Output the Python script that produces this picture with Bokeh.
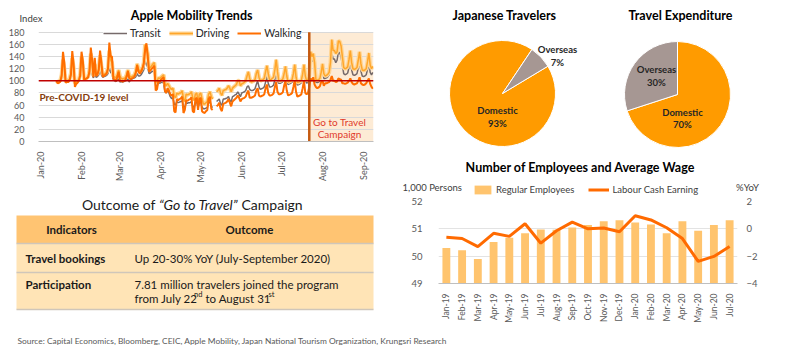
import pandas as pd
from math import pi, radians
from bokeh.plotting import figure
from bokeh.layouts import row, column
from bokeh.models import (Range1d, FactorRange, LinearAxis, Legend, LegendItem, Label,
                          BoxAnnotation, Span, FixedTicker, DatetimeTickFormatter)
from bokeh.core.properties import value
from bokeh.embed import file_html
from bokeh.resources import INLINE

FONT = "Lato"
nan = float("nan")

# ---------------- Apple mobility (daily, from 13 Jan 2020) ----------------
mobility_start = "2020-01-13"
transit = [
    100, 99, 99, 100, 104, 112, 106,
    100, 100, 101, 102, 106, 113, 107,
    97, 99, 100, 101, 105, 114, 108,
    103, 104, 105, 106, 110, 118, 110,
    105, 114, 106, 107, 110, 117, 110,
    106, 107, 108, 109, 112, 122, 114,
    112, 102, 100, 99, 101, 103, 98,
    99, 98, 99, 100, 101, 103, 98,
    102, 103, 104, 105, 107, 112, 108,
    108, 110, 114, 118, 133, 128, 122,
    112, 113, 115, 116, 115, 92, 90,
    98, 96, 97, 98, 96, 82, 80,
    85, 80, 74, 71, 72, 62, 60,
    66, 64, 65, 66, 67, 58, 56,
    64, 63, 64, 64, 66, 58, 56,
    64, 65, 56, 64, 65, 57, 54,
    54, 55, 56, 64, 66, 58, 56,
    nan, nan, 66, 68, 70, 62, 60,
    70, 70, 71, 72, 74, 68, 65,
    74, 75, 77, 78, 82, 78, 74,
    80, 81, 82, 84, 90, 92, 86,
    84, 84, 85, 87, 94, 100, 90,
    86, 87, 88, 90, 98, 108, 96,
    90, 90, 91, 93, 102, 118, 100,
    96, 96, 97, 99, 106, 118, 102,
    94, 95, 96, 98, 106, 120, 100,
    93, 94, 95, 97, 105, 120, 102,
    96, 98, 106, 140, 132, 136, 122,
    98, 97, 98, 100, 108, 120, 104,
    104, 105, 107, 110, 122, 146, 136,
    136, 130, 134, 148, 146, 140, 126,
    112, 110, 111, 113, 122, 134, 118,
    110, 109, 110, 112, 121, 132, 116,
    108, 107, 108, 110, 119, 130, 114,
    110, 114,
]
driving = [
    100, 98, 99, 101, 110, 135, 120,
    99, 100, 101, 103, 113, 138, 122,
    96, 98, 100, 102, 112, 140, 125,
    102, 104, 105, 107, 118, 145, 128,
    108, 128, 110, 112, 120, 142, 125,
    110, 111, 112, 114, 122, 150, 135,
    130, 108, 106, 105, 110, 118, 108,
    104, 103, 104, 105, 110, 118, 110,
    106, 107, 108, 110, 116, 128, 120,
    115, 118, 122, 130, 160, 155, 145,
    120, 122, 125, 128, 130, 100, 98,
    105, 104, 106, 108, 110, 95, 92,
    96, 92, 88, 86, 88, 75, 72,
    80, 78, 80, 80, 84, 70, 66,
    78, 77, 78, 79, 82, 72, 68,
    78, 80, 66, 78, 80, 70, 62,
    62, 64, 66, 78, 82, 74, 70,
    nan, nan, 82, 84, 88, 80, 76,
    84, 85, 86, 88, 92, 88, 82,
    88, 90, 92, 94, 100, 100, 92,
    95, 96, 98, 100, 108, 115, 104,
    98, 99, 100, 102, 112, 118, 106,
    100, 101, 102, 104, 115, 125, 112,
    102, 102, 104, 106, 118, 135, 115,
    100, 100, 101, 103, 112, 124, 108,
    98, 99, 100, 102, 112, 127, 106,
    97, 98, 99, 101, 111, 127, 108,
    100, 102, 110, 148, 140, 145, 130,
    102, 101, 102, 104, 114, 128, 112,
    108, 109, 111, 114, 130, 168, 150,
    150, 145, 148, 166, 165, 158, 140,
    122, 120, 121, 123, 135, 150, 130,
    120, 119, 120, 122, 134, 148, 128,
    118, 117, 118, 120, 132, 146, 126,
    120, 124,
]
walking = [
    100, 96, 97, 99, 108, 148, 130,
    97, 98, 98, 101, 110, 149, 128,
    90, 95, 97, 100, 109, 148, 133,
    101, 103, 104, 106, 115, 155, 135,
    106, 138, 108, 110, 118, 150, 130,
    107, 108, 110, 112, 120, 163, 140,
    140, 104, 102, 100, 106, 115, 100,
    100, 99, 100, 101, 106, 116, 104,
    103, 104, 105, 107, 113, 126, 115,
    112, 115, 120, 128, 150, 162, 140,
    115, 117, 120, 122, 125, 84, 86,
    100, 98, 102, 104, 106, 83, 80,
    88, 84, 78, 75, 78, 50, 48,
    70, 68, 70, 71, 74, 47, 52,
    68, 67, 69, 70, 73, 50, 48,
    70, 72, 52, 70, 72, 50, 48,
    47, 50, 52, 70, 74, 54, 52,
    nan, nan, 58, 60, 64, 54, 50,
    62, 63, 64, 66, 70, 64, 58,
    66, 68, 70, 72, 76, 72, 66,
    70, 71, 72, 74, 80, 84, 72,
    72, 73, 74, 76, 84, 88, 76,
    74, 75, 76, 78, 88, 94, 80,
    76, 76, 77, 79, 90, 98, 82,
    78, 78, 79, 81, 92, 100, 84,
    76, 77, 78, 80, 90, 101, 82,
    74, 75, 76, 78, 88, 100, 80,
    78, 80, 90, 104, 100, 106, 94,
    90, 88, 89, 91, 98, 100, 92,
    96, 96, 97, 98, 102, 108, 100,
    100, 98, 99, 104, 103, 102, 96,
    96, 95, 96, 97, 100, 104, 98,
    95, 94, 95, 96, 100, 106, 96,
    94, 93, 94, 96, 100, 104, 95,
    90, 87,
]
mob_month_ticks = ["2020-01-01", "2020-02-01", "2020-03-01", "2020-04-01", "2020-05-01",
                   "2020-06-01", "2020-07-01", "2020-08-01", "2020-09-01"]
mob_y_ticks = [0, 20, 40, 60, 80, 100, 120, 140, 160, 180]
pre_covid_level = 100
campaign_start = "2020-07-22"

# ---------------- Pies ----------------
pie_labels = ["Domestic", "Overseas"]
travelers_share = [93, 7]
expenditure_share = [70, 30]

# ---------------- Employees & wage ----------------
months = ["Jan-19", "Feb-19", "Mar-19", "Apr-19", "May-19", "Jun-19", "Jul-19", "Aug-19",
          "Sep-19", "Oct-19", "Nov-19", "Dec-19", "Jan-20", "Feb-20", "Mar-20", "Apr-20",
          "May-20", "Jun-20", "Jul-20"]
regular_employees = [50.30, 50.22, 49.90, 50.52, 50.67, 50.84, 50.98, 50.97, 51.05, 51.14,
                     51.28, 51.31, 51.23, 51.16, 50.84, 51.28, 50.93, 51.14, 51.31]
labour_cash_earning = [-0.62, -0.71, -1.30, -0.33, -0.55, 0.37, -1.05, -0.14, 0.49, 0.00,
                       0.06, -0.21, 0.96, 0.65, 0.08, -0.71, -2.38, -2.02, -1.30]
emp_ticks = [49, 50, 51, 52]
yoy_ticks = [-4, -2, 0, 2]

# ---------------- Table ----------------
table_title = ["Outcome of", "\u201cGo to Travel\u201d", "Campaign"]
table_header = ["Indicators", "Outcome"]
indicators = ["Travel bookings", "Participation"]
outcome_1 = "Up 20-30% YoY (July-September 2020)"
outcome_2 = ["7.81 million travelers joined the program", "from July 22", "nd", "to August 31", "st"]

source_text = ("Source: Capital Economics, Bloomberg, CEIC, Apple Mobility, Japan National "
               "Tourism Organization, Krungsri Research")


def ms(s):
    return pd.Timestamp(s).value / 1e6


def lab(fig, x, y, text, size, color="#000000", style="normal", align="left", xu="screen", yu="screen"):
    fig.add_layout(Label(x=x, y=y, x_units=xu, y_units=yu, text=text, text_font=FONT,
                         text_font_size=f"{size}px", text_font_style=style, text_color=color,
                         text_align=align, text_baseline="middle"))


def blank(w, h, xr, yr):
    f = figure(width=w, height=h, x_range=xr, y_range=yr, x_axis_type=None, y_axis_type=None,
               output_backend="svg", toolbar_location=None, min_border=0, frame_align=False)
    f.grid.visible = False
    f.outline_line_color = None
    return f


def put_text(fig, x, y, t, size, style="normal", align="left", color="#1A1A1A"):
    fig.text(x=x, y=y, text=t, text_font=value(FONT), text_font_size=f"{size}px",
             text_font_style=style, text_align=align, text_baseline="middle", text_color=color)


# ======================= Mobility chart =======================
mob_head = blank(400, 25, Range1d(0, 400), Range1d(25, 0))
put_text(mob_head, [191.5], [15], ["Apple Mobility Trends"], 12.5, "bold", "center", "#000000")
put_text(mob_head, [19], [18], ["Index"], 9.5, "normal", "left", "#404040")

dates = [ms(d) for d in pd.date_range(mobility_start, periods=len(driving), freq="D")]
mob_end = ms("2020-09-08 12:00")
mob = figure(width=400, height=160, x_axis_type="datetime",
             x_range=Range1d(ms("2019-12-30 12:00"), mob_end),
             y_range=Range1d(0, 188), output_backend="svg", toolbar_location=None,
             frame_align=False,
             min_border_left=38, min_border_right=27, min_border_top=2, min_border_bottom=40)
mob.outline_line_color = None
mob.xgrid.visible = False
mob.ygrid.grid_line_color = "#D9D9D9"
mob.ygrid.ticker = FixedTicker(ticks=mob_y_ticks)
mob.yaxis.ticker = FixedTicker(ticks=mob_y_ticks)
mob.xaxis.ticker = FixedTicker(ticks=[ms(d) for d in mob_month_ticks])
mob.xaxis.formatter = DatetimeTickFormatter(days="%b-%y", months="%b-%y", years="%b-%y")
for ax in (mob.xaxis, mob.yaxis):
    ax.major_tick_line_color = None
    ax.minor_tick_line_color = None
    ax.major_label_text_font = FONT
    ax.major_label_text_font_size = "9px"
    ax.major_label_text_color = "#595959"
mob.yaxis.axis_line_color = None
mob.xaxis.axis_line_color = "#BFBFBF"
mob.xaxis.major_label_orientation = pi / 2
mob.xaxis.major_label_standoff = 4
mob.yaxis.major_label_standoff = 8

mob.add_layout(BoxAnnotation(left=ms(campaign_start), right=mob_end, bottom=0, top=mob_y_ticks[-1],
                             fill_color="#FDEBD5", fill_alpha=1, line_color=None, level="image"))
r_tr = mob.line(dates, transit, line_color="#766A6A", line_width=1.5)
r_dh = mob.line(dates, driving, line_color="#FFD594", line_width=4)
r_dc = mob.line(dates, driving, line_color="#FFA62B", line_width=1.5)
r_wk = mob.line(dates, walking, line_color="#FF6E00", line_width=2)
mob.segment(x0=[ms(campaign_start)], x1=[ms(campaign_start)], y0=[0], y1=[mob_y_ticks[-1]],
            line_color="#C55A11", line_width=2.5)
mob.add_layout(Span(location=pre_covid_level, dimension="width", line_color="#C00000", line_width=1.5))

mob_leg = Legend(items=[LegendItem(label="Transit", renderers=[r_tr]),
                        LegendItem(label="Driving", renderers=[r_dh, r_dc]),
                        LegendItem(label="Walking", renderers=[r_wk])],
                 orientation="horizontal", location=(65, 102), padding=2, margin=0, spacing=8,
                 label_standoff=3, glyph_width=24, glyph_height=12, label_height=12,
                 label_text_font=FONT, label_text_font_size="10.5px", label_text_color="#262626",
                 background_fill_color="white", background_fill_alpha=1, border_line_color=None)
mob.add_layout(mob_leg, "center")

lab(mob, 1, 73, "Pre-COVID-19 level", 10, "#843C0C", "bold", "left", "screen", "data")
lab(mob, 301, 32, "Go to Travel", 10, "#E03A2B", "normal", "center", "screen", "data")
lab(mob, 301, 13, "Campaign", 10, "#E03A2B", "normal", "center", "screen", "data")

# ======================= Table =======================
tab = blank(400, 140, Range1d(0, 400), Range1d(140, 0))
tab.quad(left=[16], right=[373], top=[30], bottom=[58], fill_color="#FFC472", line_color=None)
tab.quad(left=[16, 16], right=[373, 373], top=[58, 87], bottom=[87, 124],
         fill_color="#FFE4B6", line_color=None)
tab.segment(x0=[16, 16, 16], x1=[373, 373, 373], y0=[58, 87, 124], y1=[58, 87, 124],
            line_color="#CFC6BA", line_width=1.5)

put_text(tab, [155], [19], [table_title[0]], 14, "normal", "right")
put_text(tab, [198], [19], [table_title[1]], 14, "italic", "center")
put_text(tab, [241], [19], [table_title[2]], 14, "normal", "left")
put_text(tab, [71, 249], [44, 44], table_header, 11.5, "bold", "center")
put_text(tab, [25, 25], [73, 99], indicators, 11.5, "bold")
put_text(tab, [134], [73], [outcome_1], 11.5)
put_text(tab, [134], [99], [outcome_2[0]], 11.5)
put_text(tab, [134], [113], [outcome_2[1]], 11.5)
put_text(tab, [193.5], [109], [outcome_2[2]], 7.5)
put_text(tab, [205], [113], [outcome_2[3]], 11.5)
put_text(tab, [268], [109], [outcome_2[4]], 7.5)

# ======================= Pies =======================
pies = blank(400, 150, Range1d(0, 400), Range1d(0, 150))
pie_colors = ["#FF9B00", "#A69793"]


def draw_pie(cx, cy, r, shares, first_angle):
    starts, ends = [], []
    acc = first_angle
    for s in shares:
        starts.append(radians(90 - acc))
        acc = acc + s * 3.6
        ends.append(radians(90 - acc))
    pies.wedge(x=[cx] * len(shares), y=[cy] * len(shares), radius=r, start_angle=starts,
               end_angle=ends, direction="clock", fill_color=pie_colors, line_color="white",
               line_width=1)


draw_pie(102, 57, 53, travelers_share, 59)
draw_pie(277, 56, 53, expenditure_share, 0)

put_text(pies, [104, 280], [135, 135], ["Japanese Travelers", "Travel Expenditure"], 12.5, "bold", "center", "#000000")
put_text(pies, [97, 97], [40, 27], [pie_labels[0], f"{travelers_share[0]}%"], 9.5, "bold", "center", "#262626")
put_text(pies, [157, 157], [101, 88], [pie_labels[1], f"{travelers_share[1]}%"], 9.5, "bold", "center", "#262626")
put_text(pies, [282, 282], [38, 26], [pie_labels[0], f"{expenditure_share[0]}%"], 9.5, "bold", "center", "#262626")
put_text(pies, [256, 256], [81, 68], [pie_labels[1], f"{expenditure_share[1]}%"], 9.5, "bold", "center", "#262626")

# ======================= Employees & wage =======================
BAR_COLOR = "#FFC46E"
WAGE_COLOR = "#FF6A00"
bars_head = blank(400, 46, Range1d(0, 400), Range1d(46, 0))
put_text(bars_head, [180], [17], ["Number of Employees and Average Wage"], 12.5, "bold", "center", "#000000")
put_text(bars_head, [2], [37], ["1,000 Persons"], 9.5, "normal", "left", "#404040")
put_text(bars_head, [347], [37], ["%YoY"], 9.5, "normal", "center", "#404040")
# legend keys (kept outside the visible range of this header strip)
key_bar = bars_head.vbar(x=[-50], top=[-50], bottom=[-60], width=1, fill_color=BAR_COLOR, line_color=None)
key_line = bars_head.line(x=[-60, -50], y=[-50, -50], line_color=WAGE_COLOR, line_width=3)
bar_leg = Legend(items=[LegendItem(label="Regular Employees", renderers=[key_bar]),
                        LegendItem(label="Labour Cash Earning", renderers=[key_line])],
                 orientation="horizontal", location=(72, 1), padding=2, margin=0, spacing=14,
                 label_standoff=3, glyph_width=21, glyph_height=11, label_height=11,
                 label_text_font=FONT, label_text_font_size="9.5px", label_text_color="#404040",
                 background_fill_alpha=0, border_line_color=None)
bars_head.add_layout(bar_leg, "center")

bars = figure(width=400, height=129, x_range=FactorRange(*months), y_range=Range1d(49, 52),
              extra_y_ranges={"yoy": Range1d(-4, 2)}, output_backend="svg", toolbar_location=None,
              frame_align=False,
              min_border_left=38, min_border_right=63, min_border_top=5, min_border_bottom=36)
bars.outline_line_color = None
bars.xgrid.visible = False
bars.ygrid.grid_line_color = "#E3E3E3"
bars.ygrid.ticker = FixedTicker(ticks=emp_ticks)
bars.yaxis.ticker = FixedTicker(ticks=emp_ticks)
bars.vbar(x=months, top=regular_employees, bottom=49, width=0.5, fill_color=BAR_COLOR, line_color=None)
bars.line(x=months, y=labour_cash_earning, y_range_name="yoy", line_color=WAGE_COLOR, line_width=3)
yoy_axis = LinearAxis(y_range_name="yoy", ticker=FixedTicker(ticks=yoy_ticks))
bars.add_layout(yoy_axis, "right")
for ax in (bars.xaxis[0], bars.yaxis[0], yoy_axis):
    ax.major_tick_line_color = None
    ax.minor_tick_line_color = None
    ax.major_label_text_font = FONT
    ax.major_label_text_font_size = "9.5px"
    ax.major_label_text_color = "#595959"
bars.yaxis[0].axis_line_color = None
yoy_axis.axis_line_color = None
bars.xaxis.axis_line_color = "#BFBFBF"
bars.xaxis.major_label_orientation = pi / 2
bars.xaxis.major_label_text_font_size = "8.5px"
bars.xaxis.major_label_standoff = 4
bars.yaxis[0].major_label_standoff = 10
yoy_axis.major_label_standoff = 3

# ======================= Source =======================
src = blank(800, 26, Range1d(0, 800), Range1d(26, 0))
put_text(src, [17], [15], [source_text], 8.4, "normal", "left", "#595959")

layout = column(row(column(mob_head, mob, tab), column(pies, bars_head, bars)), src)
open("out.html", "w").write(file_html(layout, INLINE))
